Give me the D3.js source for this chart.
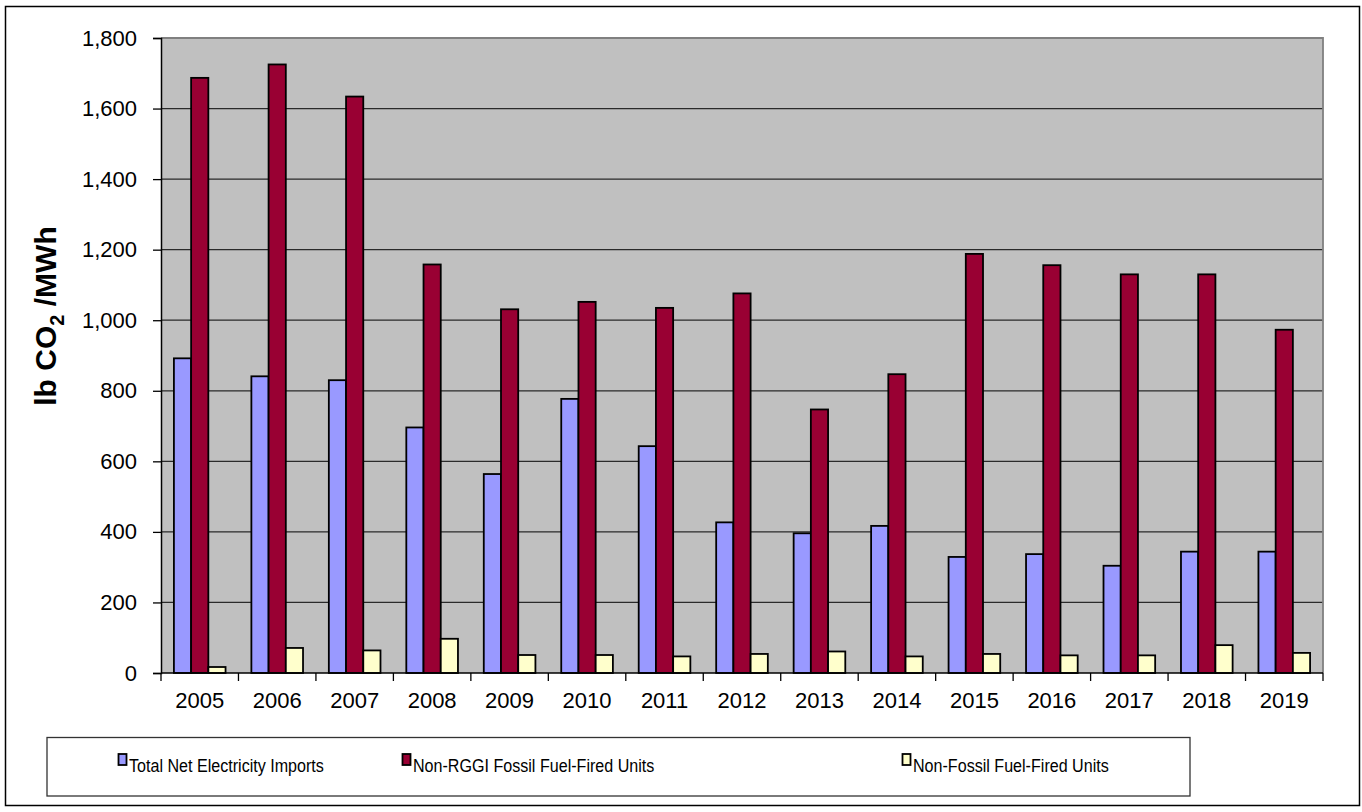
<!DOCTYPE html>
<html>
<head>
<meta charset="utf-8">
<script src="https://cdn.jsdelivr.net/npm/d3@7"></script>
<style>
  html, body { margin: 0; padding: 0; background: #fff; }
  svg { display: block; }
  text { font-family: "Liberation Sans", Arial, sans-serif; fill: #000; }
</style>
</head>
<body>
<svg id="chart" width="1362" height="812"></svg>
<script>
// Emission rates by year, lb CO2 per MWh
const years = ["2005","2006","2007","2008","2009","2010","2011","2012","2013","2014","2015","2016","2017","2018","2019"];
const netImports   = [892, 841, 830, 696, 564, 777, 643, 427, 396, 417, 329, 337, 304, 344, 344];
const nonRggiFossil = [1687, 1725, 1634, 1158, 1031, 1052, 1035, 1076, 747, 847, 1188, 1156, 1130, 1130, 973];
const nonFossil    = [17, 71, 64, 97, 51, 51, 47, 54, 61, 47, 54, 50, 50, 79, 57];
const seriesNames  = ["Total Net Electricity Imports", "Non-RGGI Fossil Fuel-Fired Units", "Non-Fossil Fuel-Fired Units"];
const seriesColors = ["#9999FF", "#990033", "#FFFFCC"];
const yTicks = [0, 200, 400, 600, 800, 1000, 1200, 1400, 1600, 1800];

const seriesValues = [netImports, nonRggiFossil, nonFossil];

const svg = d3.select("#chart");

// outer frame
svg.append("rect")
  .attr("x", 5.5).attr("y", 6.5)
  .attr("width", 1354).attr("height", 799)
  .attr("fill", "#fff").attr("stroke", "#000").attr("stroke-width", 1.5);

const plot = { left: 161, right: 1323, top: 38, bottom: 673 };

const x = d3.scaleBand().domain(years).range([plot.left, plot.right]).paddingInner(0).paddingOuter(0);
const xs = d3.scaleBand().domain(d3.range(3)).range([0, x.bandwidth()]).paddingInner(0).paddingOuter(0.75);
const y = d3.scaleLinear().domain([0, 1800]).range([plot.bottom, plot.top]);

// plot background
svg.append("rect")
  .attr("x", plot.left).attr("y", plot.top)
  .attr("width", plot.right - plot.left).attr("height", plot.bottom - plot.top)
  .attr("fill", "#C0C0C0");

// horizontal gridlines
svg.append("g").selectAll("line")
  .data(yTicks.filter(t => t > 0 && t < 1800))
  .join("line")
  .attr("x1", plot.left).attr("x2", plot.right)
  .attr("y1", d => y(d)).attr("y2", d => y(d))
  .attr("stroke", "#2a2a2a").attr("stroke-width", 1.3);

// plot border: top and right in grey
svg.append("path")
  .attr("d", `M${plot.left},${plot.top}H${plot.right}V${plot.bottom}`)
  .attr("fill", "none").attr("stroke", "#808080").attr("stroke-width", 1.8);

// bars
const groups = svg.append("g").selectAll("g")
  .data(years)
  .join("g")
  .attr("transform", d => `translate(${x(d)},0)`);

groups.selectAll("rect")
  .data((yr, i) => seriesValues.map((vals, s) => ({ s, v: vals[i] })))
  .join("rect")
  .attr("x", d => xs(d.s))
  .attr("width", xs.bandwidth())
  .attr("y", d => y(d.v))
  .attr("height", d => y(0) - y(d.v))
  .attr("fill", d => seriesColors[d.s])
  .attr("stroke", "#000")
  .attr("stroke-width", 1.8);

// y axis
const yAxis = d3.axisLeft(y)
  .tickValues(yTicks)
  .tickSize(8)
  .tickPadding(16)
  .tickFormat(d3.format(","));
const gy = svg.append("g").attr("transform", `translate(${plot.left},0)`).call(yAxis);
gy.select(".domain").attr("stroke", "#000").attr("stroke-width", 1.5);
gy.selectAll(".tick line").attr("stroke", "#000").attr("stroke-width", 1.3);
gy.selectAll(".tick text")
  .attr("font-size", 22)
  .style("font-family", '"Liberation Sans", Arial, sans-serif')
  .attr("fill", "#000");

// x axis: ticks sit on the category boundaries
const gx = svg.append("g").attr("transform", `translate(0,${plot.bottom})`);
gx.append("line")
  .attr("x1", plot.left).attr("x2", plot.right)
  .attr("y1", 0).attr("y2", 0)
  .attr("stroke", "#000").attr("stroke-width", 1.5);
gx.selectAll("line.tk")
  .data(years.concat(["end"]))
  .join("line")
  .attr("class", "tk")
  .attr("x1", (d, i) => plot.left + i * x.step())
  .attr("x2", (d, i) => plot.left + i * x.step())
  .attr("y1", 0).attr("y2", 8)
  .attr("stroke", "#000").attr("stroke-width", 1.3);
gx.selectAll("text")
  .data(years)
  .join("text")
  .attr("x", d => x(d) + x.bandwidth() / 2)
  .attr("y", 35)
  .attr("text-anchor", "middle")
  .attr("font-size", 22)
  .text(d => d);

// y axis title
const yTitle = svg.append("text")
  .attr("transform", `translate(56,316) rotate(-90)`)
  .attr("text-anchor", "middle")
  .attr("font-size", 30)
  .attr("font-weight", "bold");
yTitle.append("tspan").text("lb CO");
yTitle.append("tspan").attr("font-size", 20).attr("dy", 8).text("2");
yTitle.append("tspan").attr("dy", -8).text(" /MWh");

// legend
svg.append("rect")
  .attr("x", 47).attr("y", 737.5)
  .attr("width", 1143).attr("height", 58.5)
  .attr("fill", "#fff").attr("stroke", "#333").attr("stroke-width", 1.3);

const legendX = [118, 402, 902];
const legend = svg.append("g").selectAll("g")
  .data(seriesNames)
  .join("g")
  .attr("transform", (d, i) => `translate(${legendX[i]},0)`);
legend.append("rect")
  .attr("x", 0.5).attr("y", 754)
  .attr("width", 8).attr("height", 11)
  .attr("fill", (d, i) => seriesColors[i])
  .attr("stroke", "#000").attr("stroke-width", 1.8);
// condensed legend lettering
legend.append("text")
  .attr("transform", "translate(11,772) scale(0.87,1)")
  .attr("font-size", 18.5)
  .text(d => d);
</script>
</body>
</html>
